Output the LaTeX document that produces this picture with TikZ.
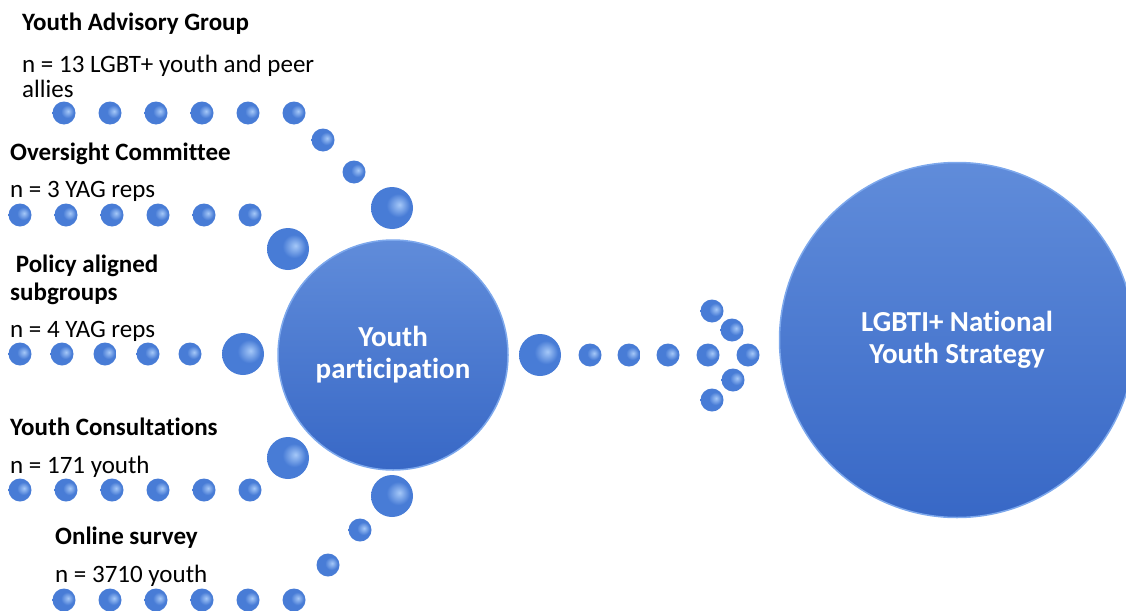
\documentclass[tikz,border=0pt]{standalone}
\usepackage{fontspec}
\setmainfont{Carlito}[Ligatures=NoCommon]
\definecolor{beadlight}{RGB}{165,200,248}
\definecolor{beadmid}{RGB}{72,124,214}
\definecolor{beaddark}{RGB}{38,78,160}
\definecolor{hubtop}{RGB}{96,140,218}
\definecolor{hubbottom}{RGB}{56,104,198}
\definecolor{hubrim}{RGB}{125,168,236}
\pgfdeclareradialshading{beadshade}{\pgfpoint{9bp}{4bp}}{color(0bp)=(beadlight); color(14bp)=(beadmid); color(42bp)=(beadmid); color(52bp)=(beaddark); color(70bp)=(beaddark)}

\begin{document}
\begin{tikzpicture}[x=1pt,y=-1pt,
  bead/.style={circle, minimum size=23pt, inner sep=0pt, shading=beadshade},
  knot/.style={bead, minimum size=42pt},
  hub/.style={circle, inner sep=0pt, top color=hubtop, bottom color=hubbottom, draw=hubrim, line width=1.5pt,
    text=white, align=center, font=\bfseries\fontsize{29}{32}\selectfont},
  grouptitle/.style={anchor=base west, inner sep=0pt, align=left, font=\bfseries\fontsize{25}{28}\selectfont},
  grouptext/.style={anchor=base west, inner sep=0pt, align=left, font=\fontsize{25}{25}\selectfont}]
\useasboundingbox (0,0) rectangle (1126,610);

% the two hubs
\node[hub, minimum size=230pt] (yp) at (393,355) {Youth\\participation};
\node[hub, minimum size=355pt] (nys) at (957,340) {LGBTI+ National\\Youth Strategy};

% group labels (base = last line)
\node[grouptitle] (yagtitle) at (22,31) {Youth Advisory Group};
\node[grouptext] (yagtext) at (22,97) {n = 13 LGBT+ youth and peer\\allies};
\node[grouptitle] (octitle) at (10,160) {Oversight Committee};
\node[grouptext] (octext) at (10,197) {n = 3 YAG reps};
\node[grouptitle] (pastitle) at (10,300) {\ Policy aligned\\subgroups};
\node[grouptext] (pastext) at (10,337) {n = 4 YAG reps};
\node[grouptitle] (yctitle) at (10,435) {Youth Consultations};
\node[grouptext] (yctext) at (10,473) {n = 171 youth};
\node[grouptitle] (ostitle) at (55,544) {Online survey};
\node[grouptext] (ostext) at (55,582) {n = 3710 youth};

% bead rows
\foreach \x [count=\i] in {64,110,156,202,248,294} \node[bead] (a\i) at (\x,113) {};
\node[bead] (a7) at (323,140) {};
\node[bead] (a8) at (354,172) {};
\node[knot] (a9) at (392,208) {};

\foreach \x [count=\i] in {20,66,112,158,204,250} \node[bead] (b\i) at (\x,215) {};
\node[knot] (b7) at (288,249) {};

\foreach \x [count=\i] in {20,62,105,148,190} \node[bead] (c\i) at (\x,354) {};
\node[knot] (c6) at (243,354) {};

\foreach \x [count=\i] in {20,66,112,158,204,250} \node[bead] (d\i) at (\x,490) {};
\node[knot] (d7) at (288,458) {};

\foreach \x [count=\i] in {64,110,156,202,248,294} \node[bead] (e\i) at (\x,600) {};
\node[bead] (e7) at (328,565) {};
\node[bead] (e8) at (360,530) {};
\node[knot] (e9) at (392,496) {};

% arrow of beads
\node[knot] (r0) at (540,355) {};
\foreach \x [count=\i] in {590,629,668,708,748} \node[bead] (r\i) at (\x,355) {};
\node[bead] (t1) at (712,311) {};
\node[bead] (t2) at (732,330) {};
\node[bead] (t3) at (733,380) {};
\node[bead] (t4) at (712,400) {};
\end{tikzpicture}
\end{document}
